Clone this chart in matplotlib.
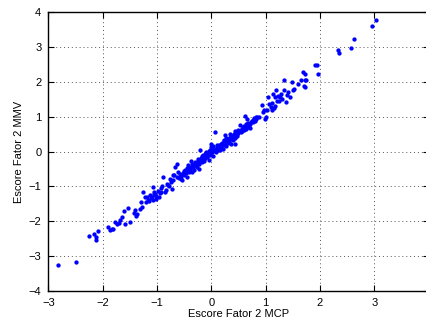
import matplotlib
matplotlib.use("Agg")
import matplotlib.pyplot as plt

plt.rcParams['font.family'] = ['Liberation Sans', 'DejaVu Sans']
plt.rcParams['font.size'] = 8

# scores (MCP vs MMV)
fator2_mcp = [
    -2.82, -2.49, -2.26, -2.16, -2.13, -2.12, -2.09,
    -1.91, -1.87, -1.83, -1.80, -1.77, -1.74, -1.70, -1.68, -1.65, -1.61, -1.58, -1.54, -1.50,
    -1.43, -1.41, -1.39, -1.37, -1.31, -1.29, -1.28, -1.26, -1.22, -1.19, -1.17, -1.15, -1.13,
    -1.11, -1.10, -1.08, -1.07, -1.05, -1.03, -1.02, -1.01, -0.98, -0.96, -0.93,
    -0.88, -0.86, -0.84, -0.81, -0.78, -0.75, -0.73, -0.70, -0.68, -0.67, -0.64, -0.63, -0.61,
    -0.58, -0.56, -0.55, -0.53, -0.51, -0.50, -0.48, -0.47, -0.45, -0.44, -0.42, -0.41, -0.40,
    -0.38, -0.37, -0.36, -0.35, -0.33, -0.32, -0.30, -0.29, -0.27, -0.26, -0.25, -0.23, -0.22,
    -0.21, -0.20, -0.18, -0.17, -0.15, -0.14, -0.12, -0.11, -0.09, -0.08, -0.07, -0.05, -0.04,
    -0.03, -0.01, 0.00, 0.01, 0.02, 0.03, 0.04, 0.05, 0.07, 0.08, 0.09, 0.10, 0.11, 0.12,
    0.14, 0.15, 0.16, 0.17, 0.18, 0.20, 0.21, 0.22, 0.24, 0.25, 0.26, 0.27, 0.28, 0.30, 0.31,
    0.32, 0.33, 0.34, 0.35, 0.36, 0.37, 0.38, 0.40, 0.41, 0.42, 0.43, 0.44, 0.45, 0.46, 0.48,
    0.49, 0.50, 0.52, 0.53, 0.54, 0.56, 0.57, 0.59, 0.60, 0.62, 0.63, 0.64, 0.65, 0.66, 0.68,
    0.70, 0.72, 0.74, 0.76, 0.77, 0.79, 0.80, 0.83, 0.85, 0.93, 0.96, 0.97, 0.99, 1.00,
    1.05, 1.07, 1.09, 1.11, 1.12, 1.14, 1.15, 1.17, 1.20, 1.21, 1.23, 1.25, 1.27, 1.29, 1.30,
    1.33, 1.34, 1.37, 1.40, 1.44, 1.48, 1.51, 1.53, 1.60, 1.66, 1.69, 1.72, 1.73, 1.75, 1.71,
    1.72, 1.91, 1.95, 1.97, 2.33, 2.35, 2.58, 2.63, 2.95, 3.04,
    -0.95, -0.90, -0.80, -0.76, -0.60, -0.52, -0.46, -0.39, -0.34, -0.28, -0.24, -0.19, -0.13,
    -0.10, -0.06, -0.02, 0.06, 0.13, 0.19, 0.23, 0.29, 0.33, 0.39, 0.47, 0.51, 0.55, 0.58,
    0.61, 0.67, 0.71, 0.75, 0.82,
    -1.20, -1.05, -0.92, -0.70, -0.57, -0.43, -0.31, -0.16, 0.00, 0.16, 0.27, 0.44, 0.63,
    0.88, 1.02, 1.18, 1.42,
]
fator2_mmv = [
    -3.25, -3.17, -2.42, -2.36, -2.53, -2.46, -2.27,
    -2.17, -2.25, -2.22, -2.23, -2.01, -2.08, -2.06, -1.97, -1.88, -1.71, -2.09, -1.62, -2.01,
    -1.75, -1.69, -1.84, -1.79, -1.64, -1.45, -1.58, -1.17, -1.30, -1.31, -1.38, -1.41, -1.25,
    -1.33, -1.31, -1.40, -1.02, -1.15, -1.21, -1.28, -1.36, -1.12, -1.30, -1.05,
    -0.72, -1.17, -1.10, -0.93, -0.98, -0.88, -1.07, -0.83, -0.66, -0.45, -0.35, -0.73, -0.60,
    -0.64, -0.78, -0.70, -0.83, -0.55, -0.68, -0.54, -0.62, -0.48, -0.72, -0.40, -0.58, -0.50,
    -0.26, -0.44, -0.60, -0.35, -0.45, -0.52, -0.30, -0.40, -0.31, -0.45, -0.22, -0.50, -0.35,
    0.05, -0.25, -0.30, -0.12, -0.16, -0.28, -0.08, -0.20, -0.02, -0.15, -0.05, -0.25, 0.02,
    -0.10, 0.22, -0.05, 0.10, 0.00, 0.15, -0.12, 0.05, 0.55, 0.08, -0.02, 0.12, 0.20, 0.05,
    0.18, 0.10, 0.03, 0.22, 0.15, 0.25, 0.08, 0.18, 0.30, 0.46, 0.20, 0.28, 0.15, 0.35, 0.25,
    0.40, 0.30, 0.51, 0.38, 0.22, 0.45, 0.35, 0.32, 0.50, 0.42, 0.58, 0.22, 0.48, 0.55, 0.45,
    0.62, 0.52, 0.60, 0.75, 0.55, 0.65, 0.58, 0.70, 0.62, 1.03, 0.72, 0.65, 0.94, 0.78, 0.70,
    0.75, 0.68, 0.85, 0.90, 0.84, 0.95, 0.88, 0.94, 1.00, 1.32, 1.13, 1.20, 0.94, 1.00,
    1.56, 1.35, 1.27, 1.40, 1.20, 1.65, 1.25, 1.30, 1.75, 1.45, 1.60, 1.46, 1.55, 1.65, 1.50,
    2.04, 1.75, 1.41, 1.62, 1.56, 1.99, 1.75, 1.78, 1.94, 2.04, 2.28, 2.23, 2.05, 2.04, 1.89,
    1.84, 2.47, 2.47, 2.23, 2.90, 2.82, 2.97, 3.23, 3.59, 3.77,
    -1.18, -1.00, -0.95, -0.80, -0.75, -0.62, -0.58, -0.46, -0.42, -0.36, -0.32, -0.18, -0.22,
    -0.12, -0.10, 0.05, 0.02, 0.12, 0.20, 0.32, 0.36, 0.28, 0.45, 0.50, 0.58, 0.62, 0.68,
    0.72, 0.82, 0.80, 0.88, 0.98,
    -1.45, -1.22, -1.15, -0.68, -0.72, -0.55, -0.40, -0.10, 0.12, 0.08, 0.40, 0.38, 0.80,
    0.98, 1.18, 1.55, 1.70,
]

fig = plt.figure(figsize=(4.26, 3.25), dpi=100)
ax = fig.add_axes([48.3 / 426, 34 / 325, 380.3 / 426, 279 / 325])

ax.plot(fator2_mcp, fator2_mmv, 'o', color='#0000ff', markersize=3.1, markeredgewidth=0)

ax.set_xlim(-3, 4)
ax.set_ylim(-4, 4)
ax.set_xticks(range(-3, 5))
ax.set_yticks(range(-4, 5))
ax.set_xticklabels(['\u22123', '\u22122', '\u22121', '0', '1', '2', '3', '4'])
ax.set_yticklabels(['\u22124', '\u22123', '\u22122', '\u22121', '0', '1', '2', '3', '4'])
ax.tick_params(axis='x', direction='in', top=True, length=4, width=0.8, pad=5)
ax.tick_params(axis='y', direction='in', right=True, length=4, width=0.8, pad=5)
ax.grid(True, linestyle=(0, (1, 3)), color='#555555', linewidth=0.7)
for s in ax.spines.values():
    s.set_linewidth(1.0)

ax.set_xlabel('Escore Fator 2 MCP', labelpad=1)
ax.set_ylabel('Escore Fator 2 MMV', labelpad=3)

fig.savefig('out.png', dpi=100)
